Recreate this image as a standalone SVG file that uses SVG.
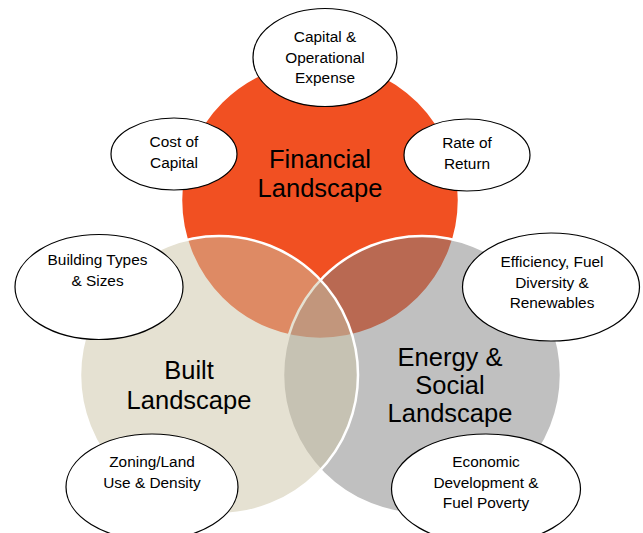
<svg xmlns="http://www.w3.org/2000/svg" width="643" height="533" viewBox="0 0 643 533">
<style>
.circ{stroke:#ffffff;stroke-width:2.5}
.fin{fill:#F15022}
.eng{fill:#818181;fill-opacity:0.5}
.blt{fill:#CBC3A5;fill-opacity:0.5}
.big{font-family:"Liberation Sans",Arial,sans-serif;font-size:25.5px;fill:#000;text-anchor:middle}
.ell{fill:#ffffff;stroke:#000;stroke-width:1.2}
.sm{font-family:"Liberation Sans",Arial,sans-serif;font-size:15.4px;fill:#000;text-anchor:middle}
</style>
<rect width="643" height="533" fill="#ffffff"/>
<g id="financial">
<circle class="circ fin" cx="320" cy="200" r="139"/>
</g>
<g id="energy">
<circle class="circ eng" cx="422" cy="375" r="139"/>
</g>
<g id="built">
<circle class="circ blt" cx="219" cy="375" r="139"/>
</g>
<g id="financial-label">
<text class="big" x="320" y="168">Financial</text>
<text class="big" x="320" y="197">Landscape</text>
</g>
<g id="built-label">
<text class="big" x="189" y="379">Built</text>
<text class="big" x="189" y="408.5">Landscape</text>
</g>
<g id="energy-label">
<text class="big" x="450" y="365.5">Energy &amp;</text>
<text class="big" x="450" y="394">Social</text>
<text class="big" x="450" y="422">Landscape</text>
</g>
<g id="capex">
<ellipse class="ell" cx="325" cy="57.5" rx="72" ry="49"/>
<text class="sm" x="325" y="42">Capital &amp;</text>
<text class="sm" x="325" y="62.5">Operational</text>
<text class="sm" x="325" y="83">Expense</text>
</g>
<g id="cost-of-capital">
<ellipse class="ell" cx="174" cy="154" rx="63" ry="36"/>
<text class="sm" x="174" y="147">Cost of</text>
<text class="sm" x="174" y="168">Capital</text>
</g>
<g id="rate-of-return">
<ellipse class="ell" cx="467" cy="155" rx="63" ry="36"/>
<text class="sm" x="467" y="147.5">Rate of</text>
<text class="sm" x="467" y="168.5">Return</text>
</g>
<g id="building-types">
<ellipse class="ell" cx="99" cy="287" rx="84" ry="52.5"/>
<text class="sm" x="97.5" y="265">Building Types</text>
<text class="sm" x="97.5" y="285.5">&amp; Sizes</text>
</g>
<g id="efficiency">
<ellipse class="ell" cx="551" cy="287" rx="88.5" ry="54"/>
<text class="sm" x="552" y="266.5">Efficiency, Fuel</text>
<text class="sm" x="552" y="287.5">Diversity &amp;</text>
<text class="sm" x="552" y="308">Renewables</text>
</g>
<g id="zoning">
<ellipse class="ell" cx="152" cy="487" rx="86" ry="53"/>
<text class="sm" x="152" y="467">Zoning/Land</text>
<text class="sm" x="152" y="488">Use &amp; Density</text>
</g>
<g id="economic">
<ellipse class="ell" cx="486" cy="489" rx="94.5" ry="55"/>
<text class="sm" x="486" y="467">Economic</text>
<text class="sm" x="486" y="488">Development &amp;</text>
<text class="sm" x="486" y="508">Fuel Poverty</text>
</g>
</svg>
